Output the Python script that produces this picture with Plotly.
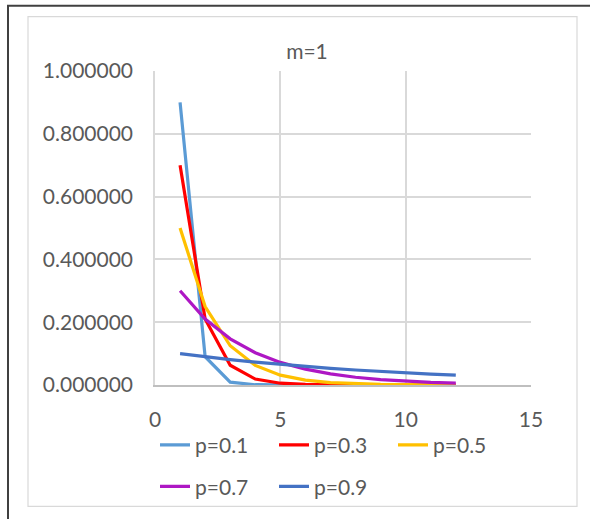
import plotly.graph_objects as go

# ---- data ----
k_values = [1, 2, 3, 4, 5, 6, 7, 8, 9, 10, 11, 12]
series_names = ["p=0.1", "p=0.3", "p=0.5", "p=0.7", "p=0.9"]
p01 = [0.9, 0.09, 0.009, 0.0009, 0.00009, 0.000009, 0.0000009, 0.00000009,
       0.000000009, 0.0000000009, 0.00000000009, 0.000000000009]
p03 = [0.7, 0.21, 0.063, 0.0189, 0.00567, 0.001701, 0.0005103, 0.00015309,
       0.000045927, 0.0000137781, 0.00000413343, 0.00000124003]
p05 = [0.5, 0.25, 0.125, 0.0625, 0.03125, 0.015625, 0.0078125, 0.00390625,
       0.001953125, 0.0009765625, 0.00048828125, 0.000244140625]
p07 = [0.3, 0.21, 0.147, 0.1029, 0.07203, 0.050421, 0.0352947, 0.02470629,
       0.017294403, 0.0121060821, 0.00847425747, 0.005931980229]
p09 = [0.1, 0.09, 0.081, 0.0729, 0.06561, 0.059049, 0.0531441, 0.04782969,
       0.043046721, 0.0387420489, 0.03486784401, 0.031381059609]
series_values = [p01, p03, p05, p07, p09]
colors = ["#5b9bd5", "#ff0000", "#ffc000", "#ae17c4", "#4472c4"]
legend_ids = ["legend", "legend", "legend", "legend2", "legend2"]
title_text = "m=1"

W, H = 590, 519
L, R, T, B = 155, 59, 71, 130
pw, ph = W - L - R, H - T - B

def px_x(x):
    return (x - L) / pw

def px_y(y):
    return (H - B - y) / ph

FONT = "Lato"
TXT = "#595959"
FS = 21

fig = go.Figure()
for name, vals, col, lg in zip(series_names, series_values, colors, legend_ids):
    fig.add_trace(go.Scatter(x=k_values, y=vals, name=name, mode="lines",
                             line=dict(color=col, width=3.2), legend=lg))

fig.update_layout(
    width=W, height=H,
    margin=dict(l=L, r=R, t=T, b=B),
    paper_bgcolor="white", plot_bgcolor="white",
    font=dict(family=FONT, size=FS, color=TXT),
    title=dict(text=title_text, x=307 / W, xref="container", xanchor="center",
               y=1 - 52 / H, yref="container", yanchor="middle",
               font=dict(family=FONT, size=FS, color=TXT)),
    xaxis=dict(range=[0, 15], dtick=5, tick0=0, showgrid=True, gridcolor="#d9d9d9",
               gridwidth=1.5, zeroline=False, showline=True, linecolor="#bfbfbf",
               linewidth=1.5, ticks="outside", ticklen=15, tickcolor="rgba(0,0,0,0)",
               tickfont=dict(family=FONT, size=FS, color=TXT), fixedrange=True),
    yaxis=dict(range=[0, 1], dtick=0.2, tick0=0, tickformat=".6f", showgrid=True,
               gridcolor="#d9d9d9", gridwidth=1.5, zeroline=False, showline=True,
               linecolor="#d9d9d9", linewidth=1.5, ticks="outside", ticklen=16,
               tickcolor="rgba(0,0,0,0)",
               tickfont=dict(family=FONT, size=FS, color=TXT), fixedrange=True),
    legend=dict(orientation="h", x=px_x(155), xanchor="left", y=px_y(450),
                yanchor="middle", entrywidth=74, font=dict(family=FONT, size=FS, color=TXT),
                bgcolor="rgba(0,0,0,0)", traceorder="normal"),
    legend2=dict(orientation="h", x=px_x(155), xanchor="left", y=px_y(492),
                 yanchor="middle", entrywidth=74, font=dict(family=FONT, size=FS, color=TXT),
                 bgcolor="rgba(0,0,0,0)", traceorder="normal"),
    showlegend=True,
)

# chart frame decorations
fig.add_shape(type="rect", xref="paper", yref="paper",
              x0=px_x(8), x1=px_x(620), y0=px_y(560), y1=px_y(5),
              line=dict(color="#404040", width=2), layer="below")
fig.add_shape(type="rect", xref="paper", yref="paper",
              x0=px_x(28), x1=px_x(577), y0=px_y(512), y1=px_y(16),
              line=dict(color="#d9d9d9", width=1.2), layer="below")

fig.write_html("out.html")
